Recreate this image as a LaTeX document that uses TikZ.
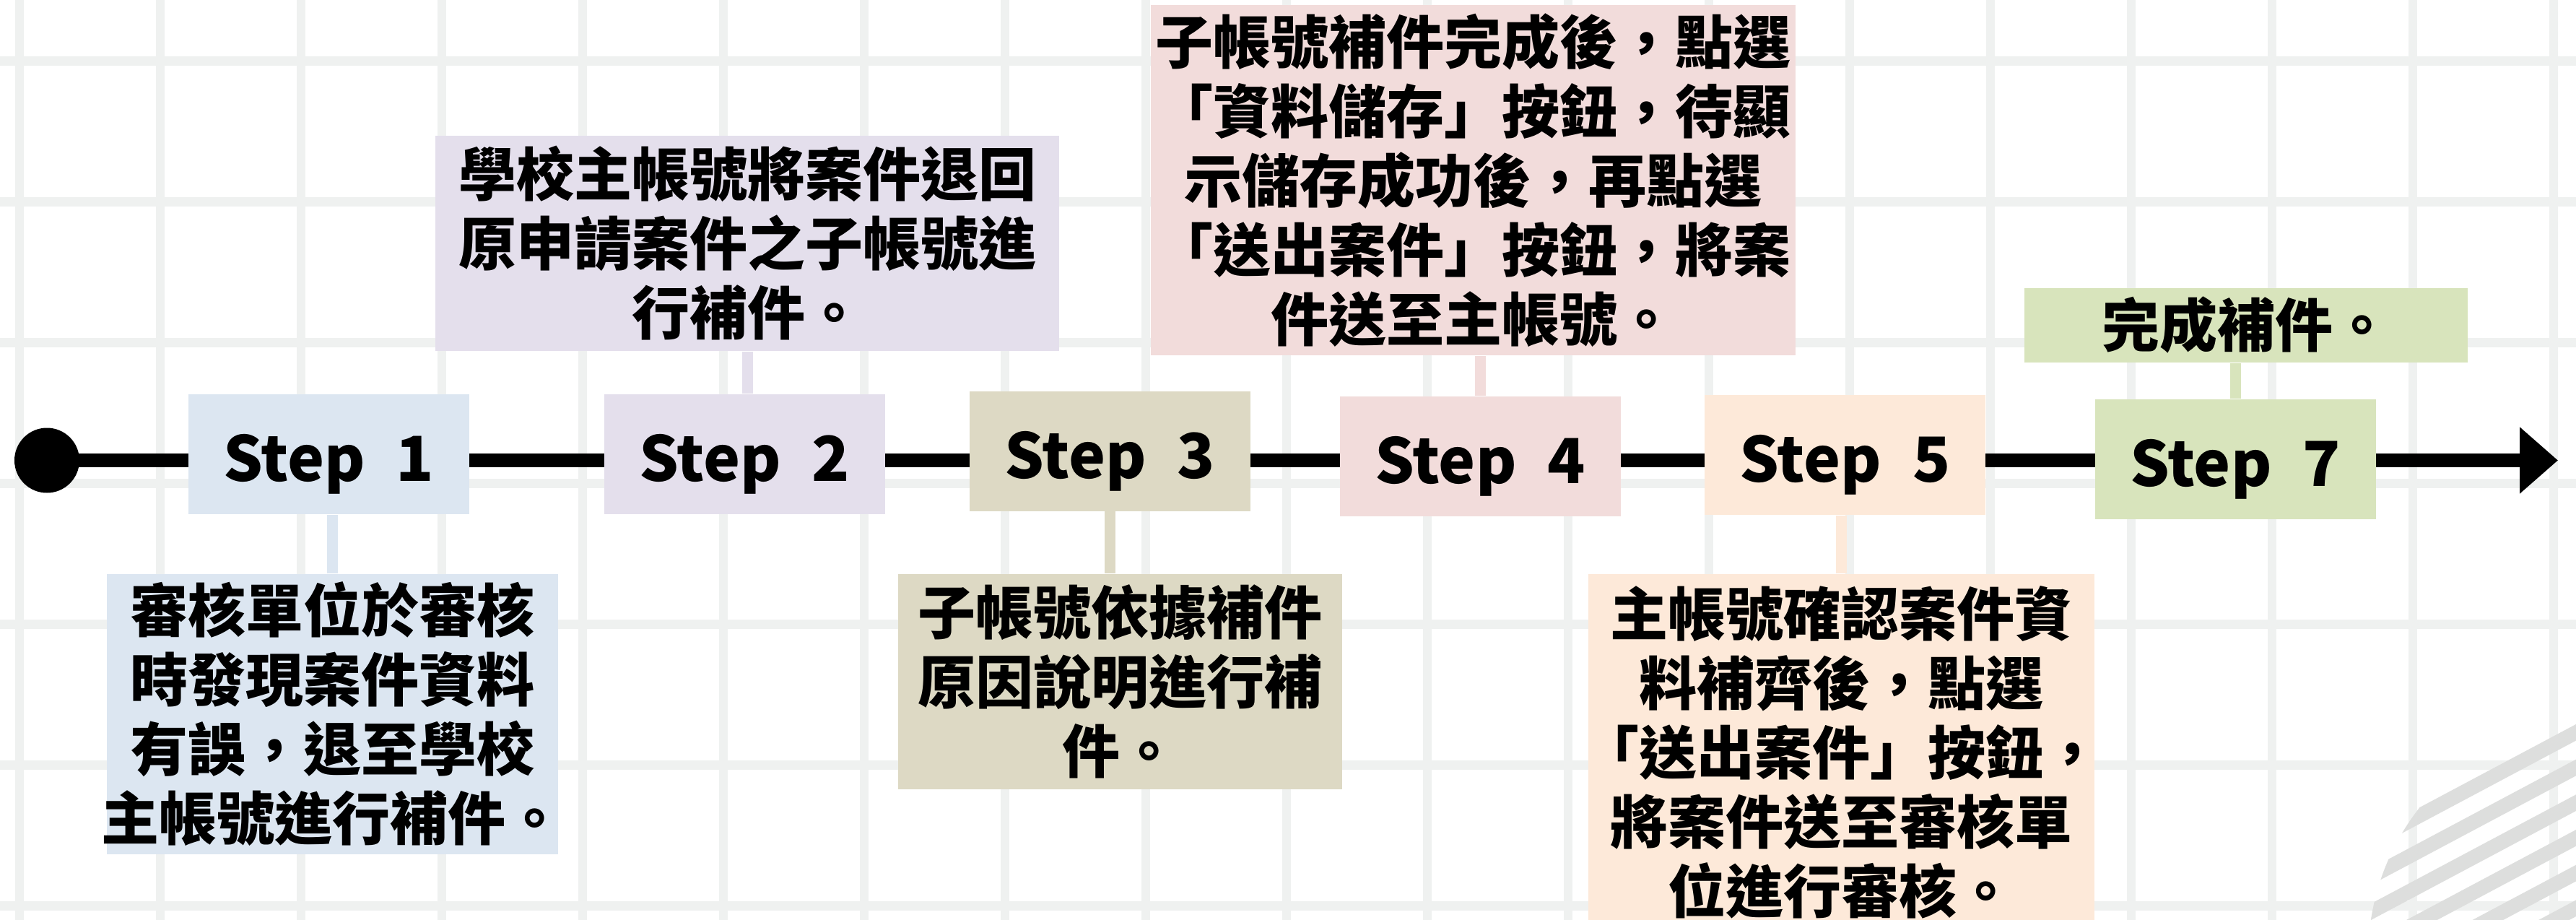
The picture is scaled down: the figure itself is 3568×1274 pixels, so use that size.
\documentclass[tikz,border=0pt]{standalone}
\usepackage{fontspec}
\setmainfont{Noto Sans CJK TC}
\usepackage{tikz}
\usetikzlibrary{arrows.meta}

\definecolor{gridgray}{RGB}{239,241,240}
\definecolor{stripegray}{RGB}{221,222,221}
\definecolor{boxblue}{RGB}{220,230,241}
\definecolor{boxlilac}{RGB}{228,223,236}
\definecolor{boxkhaki}{RGB}{221,217,196}
\definecolor{boxpink}{RGB}{242,220,219}
\definecolor{boxpeach}{RGB}{253,233,217}
\definecolor{boxgreen}{RGB}{216,228,188}

\tikzset{
  stepbox/.style={rectangle, inner sep=0pt, minimum width=97.25pt, minimum height=41.5pt,
    text height=18.8pt, text depth=0pt,
    font=\bfseries\fontsize{21.5pt}{24pt}\selectfont},
  notebox/.style={rectangle, inner sep=0pt, align=center,
    font=\bfseries\fontsize{20pt}{24pt}\selectfont},
  stem/.style={line width=3.75pt},
  gridline/.style={gridgray, line width=3.1pt},
}

\begin{document}
\begin{tikzpicture}[x=0.25pt,y=0.25pt,yscale=-1]
\useasboundingbox (0,0) rectangle (3568,1274);
\clip (0,0) rectangle (3568,1274);
\fill[white] (0,0) rectangle (3568,1274);

%Shape: Grid
\foreach \i in {0,...,18}
  \draw[gridline] (27+195*\i,0) -- (27+195*\i,1274);
\foreach \j in {0,...,6}
  \draw[gridline] (0,84.5+195*\j) -- (3568,84.5+195*\j);

%Shape: Stripes, bottom right corner
\begin{scope}
\clip (3615,1325) circle [radius=335];
\foreach \k in {0,...,11}
  \draw[stripegray, line width=5pt] (3200,1210+48.7*\k) -- (3700,944+48.7*\k);
\end{scope}

%Shape: Timeline with start dot and arrow
\node[circle, fill=black, inner sep=0pt, minimum size=22.5pt] (start) at (65,637.5) {};
\coordinate (tip) at (3543,637.5);
\draw[line width=4.75pt, -{Triangle[length=13.25pt,width=22.25pt]}] (start.center) -- (tip);

% Text Node
\node[stepbox, fill=boxblue] (s1) at (455.5,629) {Step\enspace 1};
% Text Node
\node[stepbox, fill=boxlilac] (s2) at (1031.5,628.5) {Step\enspace 2};
% Text Node
\node[stepbox, fill=boxkhaki] (s3) at (1537.5,624.5) {Step\enspace 3};
% Text Node
\node[stepbox, fill=boxpink] (s4) at (2050,631.5) {Step\enspace 4};
% Text Node
\node[stepbox, fill=boxpeach] (s5) at (2555.5,630) {Step\enspace 5};
% Text Node
\node[stepbox, fill=boxgreen] (s7) at (3096,636) {Step\enspace 7};

% Text Node
\node[notebox, fill=boxblue, minimum width=156.25pt, minimum height=97pt, inner xsep=-4pt] (d1) at (460.5,989)
  {審核單位於審核\\時發現案件資料\\有誤，退至學校\\主帳號進行補件。};
% Text Node
\node[notebox, fill=boxlilac, minimum width=216pt, minimum height=74.6pt] (d2) at (1035,336.75)
  {學校主帳號將案件退回\\原申請案件之子帳號進\\行補件。};
% Text Node
\node[notebox, fill=boxkhaki, minimum width=153.75pt, minimum height=74.5pt] (d3) at (1551.5,944)
  {子帳號依據補件\\原因說明進行補\\件。};
% Text Node
\node[notebox, fill=boxpink, minimum width=223.25pt, minimum height=121.25pt] (d4) at (2040.5,249.5)
  {子帳號補件完成後，點選\\「資料儲存」按鈕，待顯\\示儲存成功後，再點選\\「送出案件」按鈕，將案\\件送至主帳號。};
% Text Node
\node[notebox, fill=boxpeach, minimum width=175.25pt, minimum height=123.5pt, inner xsep=-3pt] (d5) at (2550.5,1042)
  {主帳號確認案件資\\料補齊後，點選\\「送出案件」按鈕，\\將案件送至審核單\\位進行審核。};
% Text Node
\node[notebox, fill=boxgreen, minimum width=153.5pt, minimum height=25.75pt] (d7) at (3111,450.5)
  {完成補件。};

%Shape: Stems
\draw[stem, boxblue] (d1.north) -- (d1.north |- s1.south);
\draw[stem, boxlilac] (d2.south) -- (d2.south |- s2.north);
\draw[stem, boxkhaki] (s3.south) -- (s3.south |- d3.north);
\draw[stem, boxpink] (s4.north) -- (s4.north |- d4.south);
\draw[stem, boxpeach] (d5.north) -- (d5.north |- s5.south);
\draw[stem, boxgreen] (s7.north) -- (s7.north |- d7.south);

\end{tikzpicture}
\end{document}
